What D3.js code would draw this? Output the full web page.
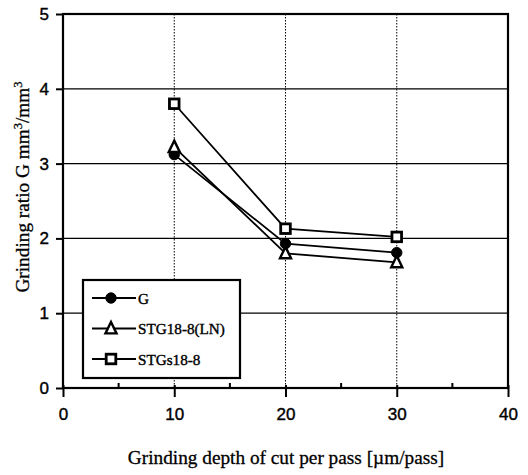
<!DOCTYPE html>
<html>
<head>
<meta charset="utf-8">
<script src="https://cdn.jsdelivr.net/npm/d3@7"></script>
<style>
  html, body { margin: 0; padding: 0; background: #fff; }
  svg { display: block; }
</style>
</head>
<body>
<svg id="chart" width="528" height="475"></svg>
<script>
// Grinding depth of cut per pass (µm/pass)
const depths = [10, 20, 30];
// Grinding ratio G for each wheel
const valuesG = [3.12, 1.93, 1.81];
const valuesSTG_LN = [3.22, 1.80, 1.68];
const valuesSTGs = [3.80, 2.13, 2.02];
const seriesNames = ["G", "STG18-8(LN)", "STGs18-8"];
const seriesSymbols = ["circle", "triangle", "square"];
const xTicks = [0, 10, 20, 30, 40];
const xMinorTicks = [5, 15, 25, 35];
const yTicks = [0, 1, 2, 3, 4, 5];

const series = [
  { name: seriesNames[0], symbol: seriesSymbols[0], values: valuesG },
  { name: seriesNames[1], symbol: seriesSymbols[1], values: valuesSTG_LN },
  { name: seriesNames[2], symbol: seriesSymbols[2], values: valuesSTGs }
];

const svg = d3.select("#chart");
const plotLeft = 63, plotRight = 508, plotTop = 14, plotBottom = 388;
const serif = "'Liberation Serif', 'Times New Roman', serif";
const sans = "'Liberation Sans', Arial, sans-serif";

const x = d3.scaleLinear().domain([0, 40]).range([plotLeft, plotRight]);
const y = d3.scaleLinear().domain([0, 5]).range([plotBottom, plotTop]);

// horizontal gridlines (solid)
svg.append("g").selectAll("line")
  .data(yTicks.filter(v => v > 0 && v < 5))
  .join("line")
  .attr("x1", plotLeft).attr("x2", plotRight)
  .attr("y1", d => y(d)).attr("y2", d => y(d))
  .attr("stroke", "#000").attr("stroke-width", 1.3);

// vertical gridlines (dotted)
svg.append("g").selectAll("line")
  .data(xTicks.filter(v => v > 0 && v < 40))
  .join("line")
  .attr("x1", d => x(d)).attr("x2", d => x(d))
  .attr("y1", plotTop).attr("y2", plotBottom)
  .attr("stroke", "#000").attr("stroke-width", 1)
  .attr("stroke-dasharray", "1.5,1.5");

// frame
svg.append("rect")
  .attr("x", plotLeft).attr("y", plotTop)
  .attr("width", plotRight - plotLeft).attr("height", plotBottom - plotTop)
  .attr("fill", "none").attr("stroke", "#000").attr("stroke-width", 2.2);

// x axis
const xAxis = svg.append("g").attr("transform", `translate(0,${plotBottom})`)
  .call(d3.axisBottom(x).tickValues(xTicks).tickFormat(d3.format("d"))
    .tickSize(9).tickPadding(11));
xAxis.select(".domain").remove();
xAxis.selectAll(".tick line").attr("stroke", "#000").attr("stroke-width", 2)
  .attr("y1", -3);
xAxis.selectAll(".tick text")
  .attr("font-family", sans)
  .attr("font-size", 17).attr("fill", "#000")
  .attr("stroke", "#000").attr("stroke-width", 0.4);

// minor x ticks (inward)
svg.append("g").selectAll("line")
  .data(xMinorTicks)
  .join("line")
  .attr("x1", d => x(d)).attr("x2", d => x(d))
  .attr("y1", plotBottom).attr("y2", plotBottom - 5)
  .attr("stroke", "#000").attr("stroke-width", 2);

// y axis
const yAxis = svg.append("g").attr("transform", `translate(${plotLeft},0)`)
  .call(d3.axisLeft(y).tickValues(yTicks).tickFormat(d3.format("d"))
    .tickSize(7).tickPadding(7));
yAxis.select(".domain").remove();
yAxis.selectAll(".tick line").attr("stroke", "#000").attr("stroke-width", 2);
yAxis.selectAll(".tick text")
  .attr("font-family", sans)
  .attr("font-size", 17).attr("fill", "#000")
  .attr("stroke", "#000").attr("stroke-width", 0.4);

// axis titles
svg.append("text")
  .attr("x", 286).attr("y", 464)
  .attr("text-anchor", "middle")
  .attr("font-family", serif)
  .attr("font-size", 19.3).attr("fill", "#000")
  .attr("stroke", "#000").attr("stroke-width", 0.3)
  .text("Grinding depth of cut per pass [\u00b5m/pass]");

const yTitle = svg.append("text")
  .attr("transform", "translate(29,187) rotate(-90)")
  .attr("text-anchor", "middle")
  .attr("font-family", serif)
  .attr("font-size", 19.3).attr("fill", "#000")
  .attr("stroke", "#000").attr("stroke-width", 0.3);
yTitle.append("tspan").text("Grinding ratio G mm");
yTitle.append("tspan").attr("dy", -7).attr("font-size", 12.5).text("3");
yTitle.append("tspan").attr("dy", 7).text("/mm");
yTitle.append("tspan").attr("dy", -7).attr("font-size", 12.5).text("3");

// marker drawing
function drawMarker(g, symbol, cx, cy) {
  if (symbol === "circle") {
    g.append("circle").attr("cx", cx).attr("cy", cy).attr("r", 5.2)
      .attr("fill", "#000").attr("stroke", "#000").attr("stroke-width", 1);
  } else if (symbol === "triangle") {
    const s = 6.5;
    g.append("path")
      .attr("d", `M${cx},${cy - s}L${cx + s * 0.85},${cy + s * 0.75}L${cx - s * 0.85},${cy + s * 0.75}Z`)
      .attr("fill", "#fff").attr("stroke", "#000").attr("stroke-width", 2.4);
  } else {
    const s = 4.8;
    g.append("rect").attr("x", cx - s).attr("y", cy - s)
      .attr("width", 2 * s).attr("height", 2 * s)
      .attr("fill", "#fff").attr("stroke", "#000").attr("stroke-width", 2.8);
  }
}

const line = d3.line().x(d => x(d[0])).y(d => y(d[1]));

series.forEach(s => {
  const pts = depths.map((d, i) => [d, s.values[i]]);
  svg.append("path").datum(pts)
    .attr("d", line).attr("fill", "none")
    .attr("stroke", "#000").attr("stroke-width", 1.8);
});
series.forEach(s => {
  const g = svg.append("g");
  depths.forEach((d, i) => drawMarker(g, s.symbol, x(d), y(s.values[i])));
});

// legend
const legend = svg.append("g");
legend.append("rect")
  .attr("x", 83).attr("y", 280).attr("width", 157).attr("height", 98)
  .attr("fill", "#fff").attr("stroke", "#000").attr("stroke-width", 2.2);
series.forEach((s, i) => {
  const ly = 298 + i * 30.5;
  legend.append("line").attr("x1", 92).attr("x2", 136)
    .attr("y1", ly).attr("y2", ly)
    .attr("stroke", "#000").attr("stroke-width", 1.8);
  drawMarker(legend, s.symbol, 111, ly);
  legend.append("text").attr("x", 138).attr("y", ly + 5.5)
    .attr("font-family", serif)
    .attr("font-size", 15.2).attr("fill", "#000")
    .attr("stroke", "#000").attr("stroke-width", 0.4)
    .text(s.name);
});
</script>
</body>
</html>
